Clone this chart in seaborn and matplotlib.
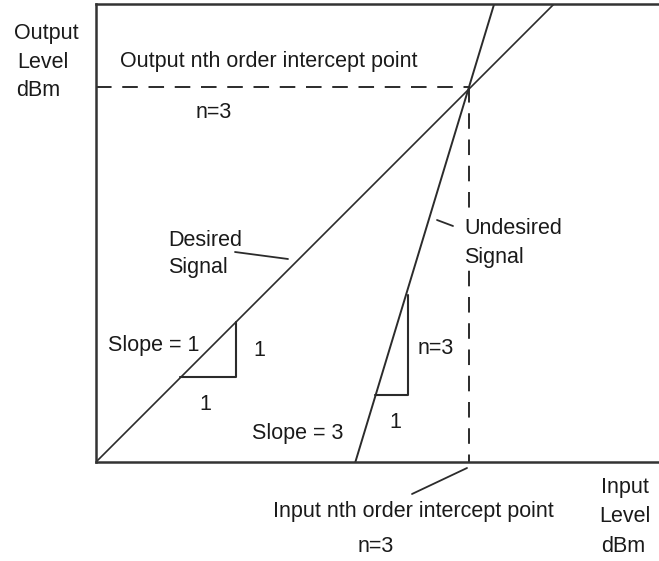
import numpy as np
import pandas as pd
import seaborn as sns
import matplotlib.pyplot as plt

# schematic units (input level on x, output level on y)
x_max, y_max = 563, 458
intercept = (373, 375)          # nth order intercept point
desired_slope = 1.0
undesired_slope = 3.3

desired_in = [0, 458]
undesired_out = [0, 458]

# slope triangles: (x0, y0, x1, y1)
tri_desired = (84, 85, 140, 140)
tri_undesired = (279, 67, 312, 167)

# leader lines
leader_desired = ([139, 192], [210, 203])
leader_undesired = ([341, 357], [242, 236])
leader_input = ([316, 371], [-32, -6])

sns.set_theme(style="white")
plt.rcParams["font.family"] = ["Liberation Sans", "DejaVu Sans"]

fig = plt.figure(figsize=(6.59, 5.61), dpi=100)
ax = fig.add_axes([96 / 659, 99 / 561, x_max / 659, y_max / 561])
ax.set_xlim(0, x_max)
ax.set_ylim(0, y_max)

ink = "#2b2b2b"

# desired signal
d_out = [desired_slope * x for x in desired_in]
sns.lineplot(x=desired_in, y=d_out, ax=ax, color=ink, lw=1.2, estimator=None)

# undesired signal
u_in = [intercept[0] + (y - intercept[1]) / undesired_slope for y in undesired_out]
sns.lineplot(x=u_in, y=undesired_out, ax=ax, color=ink, lw=1.4, estimator=None)

# dashed intercept guides
ax.plot([0, intercept[0]], [intercept[1]] * 2, color=ink, lw=1.4, dashes=(8, 5.5))
ax.plot([intercept[0]] * 2, [intercept[1], 0], color=ink, lw=1.4, dashes=(8, 5.5))

# triangles
for x0, y0, x1, y1 in (tri_desired, tri_undesired):
    ax.plot([x0, x1, x1], [y0, y0, y1], color=ink, lw=1.5)

for xs, ys in (leader_desired, leader_undesired, leader_input):
    ax.plot(xs, ys, color=ink, lw=1.3, clip_on=False)

ax.set_xticks([])
ax.set_yticks([])
ax.spines["right"].set_visible(False)
for s in ("left", "bottom", "top"):
    ax.spines[s].set_color("#333333")
    ax.spines[s].set_linewidth(1.8)

fs = 15.5
kw = dict(fontsize=fs, color="#1a1a1a", clip_on=False, va="center", zorder=5)
ax.text(-82, 429, "Output", **kw)
ax.text(-79, 400, "Level", **kw)
ax.text(-80, 372, "dBm", **kw)
ax.text(24, 400, "Output nth order intercept point", **kw)
ax.text(100, 349, "n=3", **kw)
ax.text(72, 221, "Desired", **kw)
ax.text(72, 194, "Signal", **kw)
ax.text(368, 219, "Undesired\nSignal", linespacing=1.45,
        bbox=dict(fc="white", ec="none", pad=2), **kw)
ax.text(12, 117, "Slope = 1", **kw)
ax.text(157, 112, "1", **kw)
ax.text(103, 58, "1", **kw)
ax.text(156, 29, "Slope = 3", **kw)
ax.text(322, 113, "n=3", **kw)
ax.text(293, 39, "1", **kw)
ax.text(177, -49, "Input nth order intercept point", **kw)
ax.text(262, -85, "n=3", **kw)
ax.text(505, -26, "Input", **kw)
ax.text(503, -55, "Level", **kw)
ax.text(505, -84, "dBm", **kw)

fig.savefig("out.png", dpi=100)
